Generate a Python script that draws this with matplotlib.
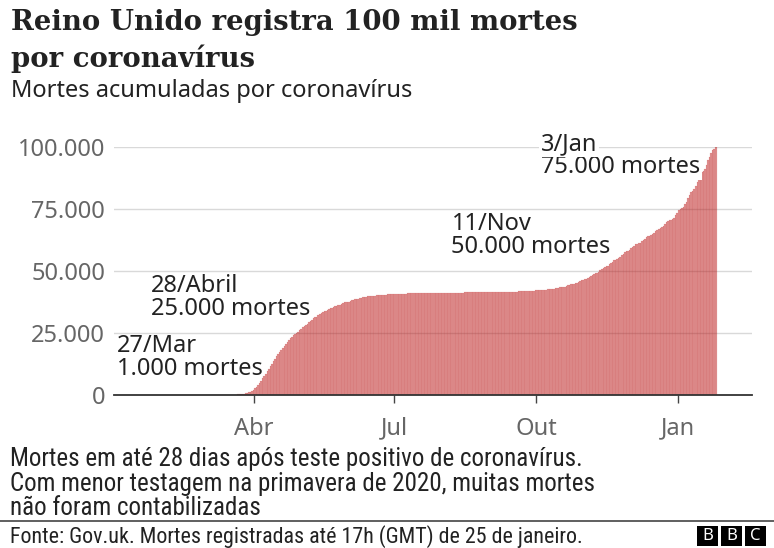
import matplotlib
matplotlib.use("Agg")
import matplotlib.pyplot as plt
import matplotlib.transforms as mtransforms
from matplotlib import font_manager
from matplotlib.patches import Rectangle
import pandas as pd

# ---------------- data: cumulative deaths per day (1 Mar 2020 - 25 Jan 2021) ----------------
start_date = "2020-03-01"
mar = [0, 0, 0, 0, 1, 2, 2, 3, 4, 6,
       8, 8, 10, 21, 35, 55, 71, 104, 144, 190,
       240, 290, 350, 430, 540, 680, 850, 1050, 1300, 1600, 2000]
apr = [2700, 3400, 4200, 5000, 5800, 6700, 7600, 8600, 9600, 10600,
       11600, 12600, 13600, 14600, 15600, 16500, 17400, 18300, 19100, 19900,
       20700, 21500, 22200, 22900, 23500, 24000, 24500, 25000, 25600, 26200]
may = [26800, 27400, 27900, 28300, 28800, 29400, 29900, 30400, 30900, 31300,
       31600, 32100, 32500, 32900, 33300, 33700, 34000, 34200, 34600, 34900,
       35200, 35500, 35800, 36000, 36100, 36400, 36700, 37000, 37300, 37500, 37600]
jun = [37700, 38000, 38200, 38400, 38600, 38800, 38900, 39000, 39200, 39400,
       39500, 39600, 39750, 39800, 39850, 39950, 40050, 40100, 40200, 40250,
       40300, 40320, 40400, 40450, 40500, 40550, 40600, 40620, 40640, 40700]
jul = [40730, 40760, 40800, 40820, 40840, 40860, 40890, 40920, 40950, 40970,
       40990, 41000, 41010, 41030, 41050, 41070, 41080, 41090, 41100, 41110,
       41120, 41130, 41140, 41150, 41160, 41165, 41170, 41180, 41190, 41200, 41210]
aug = [41215, 41220, 41225, 41235, 41245, 41255, 41265, 41270, 41275, 41280,
       41290, 41300, 41320, 41330, 41340, 41345, 41350, 41360, 41370, 41380,
       41390, 41400, 41405, 41410, 41425, 41440, 41450, 41460, 41470, 41475, 41480]
sep = [41490, 41500, 41515, 41530, 41540, 41545, 41550, 41580, 41590, 41605,
       41615, 41625, 41630, 41640, 41660, 41680, 41700, 41720, 41740, 41760,
       41770, 41810, 41850, 41890, 41930, 41970, 42000, 42010, 42080, 42150]
oct_ = [42220, 42280, 42330, 42350, 42370, 42440, 42520, 42600, 42690, 42780,
        42840, 42880, 43020, 43160, 43300, 43440, 43590, 43660, 43730, 43970,
        44160, 44350, 44570, 44740, 44900, 45000, 45360, 45670, 45950, 46230, 46560]
nov = [46720, 46860, 47250, 47740, 48120, 48470, 48890, 49040, 49240, 49770,
       50370, 50930, 51300, 51770, 51930, 52150, 52750, 53270, 53780, 54290,
       54630, 54970, 55200, 55810, 56530, 57030, 57550, 58030, 58240, 58450]
dec = [59150, 59800, 60210, 60710, 61010, 61250, 61430, 62030, 62570, 63080,
       63510, 64030, 64170, 64400, 64910, 65520, 66050, 66540, 67080, 67400,
       67620, 68310, 69050, 69630, 70200, 70400, 70750, 71110, 71570, 72550, 73510]
jan = [74400, 74900, 75400, 75900, 76900, 78000, 79300, 80700, 81800, 82400,
       83000, 84300, 85900, 87200, 88500, 89800, 90500, 91200, 92800, 94600,
       96000, 97400, 98700, 99300, 99800]

cumulative = mar + apr + may + jun + jul + aug + sep + oct_ + nov + dec + jan
dates = pd.date_range(start_date, periods=len(cumulative), freq="D")

y_ticks = [0, 25000, 50000, 75000, 100000]
y_tick_labels = ["0", "25.000", "50.000", "75.000", "100.000"]
x_ticks = ["2020-04-01", "2020-07-01", "2020-10-01", "2021-01-01"]
x_tick_labels = ["Abr", "Jul", "Out", "Jan"]

annotation_texts = ["27/Mar\n1.000 mortes", "28/Abril\n25.000 mortes",
                    "11/Nov\n50.000 mortes", "3/Jan\n75.000 mortes"]

title_lines = ["Reino Unido registra 100 mil mortes", "por coronavírus"]
subtitle = "Mortes acumuladas por coronavírus"
footnote_lines = ["Mortes em até 28 dias após teste positivo de coronavírus.",
                  "Com menor testagem na primavera de 2020, muitas mortes",
                  "não foram contabilizadas"]
source = "Fonte: Gov.uk. Mortes registradas até 17h (GMT) de 25 de janeiro."

# ---------------- layout (label anchor positions, not data) ----------------
annotation_anchors = [("2020-01-03", 17340), ("2020-01-25", 41530),
                      ("2020-08-07", 66530), ("2020-10-04", 98790)]

# ---------------- figure ----------------
W, H = 774, 548
fig = plt.figure(figsize=(W / 100, H / 100), dpi=100)
sans = ["Noto Sans", "DejaVu Sans"]

names = {f.name for f in font_manager.fontManager.ttflist}
if "Roboto Condensed" in names:
    narrow, nsize, ssize = ["Roboto Condensed", "DejaVu Sans"], 18.0, 15.8
elif "Liberation Sans Narrow" in names:
    narrow, nsize, ssize = ["Liberation Sans Narrow", "DejaVu Sans"], 17.5, 15.5
else:
    narrow, nsize, ssize = ["Roboto", "DejaVu Sans"], 16.0, 14.0


def fx(px):
    return px / W


def fy(py):
    return 1 - py / H


ax = fig.add_axes([fx(114), fy(395), fx(752) - fx(114), fy(147) - fy(395)])

ax.bar(dates, cumulative, width=1.0, align="edge",
       color=(0.733, 0.098, 0.098, 0.47),
       edgecolor=(0.733, 0.098, 0.098, 0.2), linewidth=0.3, zorder=2)

ax.set_xlim(pd.Timestamp("2020-01-01"), pd.Timestamp("2021-02-18"))
ax.set_ylim(0, 100000)

ax.set_yticks(y_ticks)
ax.set_yticklabels(y_tick_labels)
ax.set_xticks(pd.to_datetime(x_ticks))
ax.set_xticklabels(x_tick_labels)

ax.grid(axis="y", color="#d9d9d9", linewidth=1.0, zorder=1)
ax.set_axisbelow(True)
for s in ["top", "right", "left"]:
    ax.spines[s].set_visible(False)
ax.spines["bottom"].set_color("#333333")
ax.spines["bottom"].set_linewidth(1.3)
ax.spines["bottom"].set_zorder(3)

ax.tick_params(axis="y", length=0, pad=6.5, labelsize=17, labelcolor="#666666")
ax.tick_params(axis="x", length=6, width=1, color="#444444", pad=9.5,
               labelsize=17, labelcolor="#666666")
for lbl in ax.get_yticklabels() + ax.get_xticklabels():
    lbl.set_family(sans)

for text, (xd, yv) in zip(annotation_texts, annotation_anchors):
    for i, line in enumerate(text.split("\n")):
        tr = mtransforms.offset_copy(ax.transData, fig=fig, x=0, y=-23 * i, units="dots")
        kw = {}
        if text.startswith("3/Jan"):
            kw["bbox"] = dict(facecolor="white", edgecolor="none", pad=1.0)
        ax.text(pd.Timestamp(xd), yv, line, transform=tr, fontsize=17, family=sans,
                color="#222222", ha="left", va="baseline", zorder=4 - 0.1 * i,
                clip_on=False, **kw)

# titles
for i, line in enumerate(title_lines):
    fig.text(fx(11), fy(29.5 + 37 * i), line, fontsize=19.8, fontweight="bold",
             family=["DejaVu Serif"], color="#222222", ha="left", va="baseline")
fig.text(fx(11), fy(97), subtitle, fontsize=17, family=sans, color="#222222",
         ha="left", va="baseline")

# footnote
for i, line in enumerate(footnote_lines):
    fig.text(fx(10), fy(459 + 24.5 * i), line, fontsize=nsize, family=narrow,
             color="#222222", ha="left", va="center")
fig.add_artist(plt.Line2D([0, 1], [fy(521), fy(521)], color="#444444", linewidth=1.2))
fig.text(fx(10), fy(537), source, fontsize=ssize, family=narrow, color="#222222",
         ha="left", va="center")

# BBC blocks
for i, letter in enumerate("BBC"):
    x0 = 697 + i * 24
    fig.add_artist(Rectangle((fx(x0), fy(546)), fx(21), fy(526) - fy(546),
                             facecolor="black", edgecolor="none", transform=fig.transFigure))
    fig.text(fx(x0 + 10.5), fy(536.5), letter, fontsize=12, fontweight="bold",
             family=sans, color="white", ha="center", va="center")

fig.savefig("out.png", dpi=100)
